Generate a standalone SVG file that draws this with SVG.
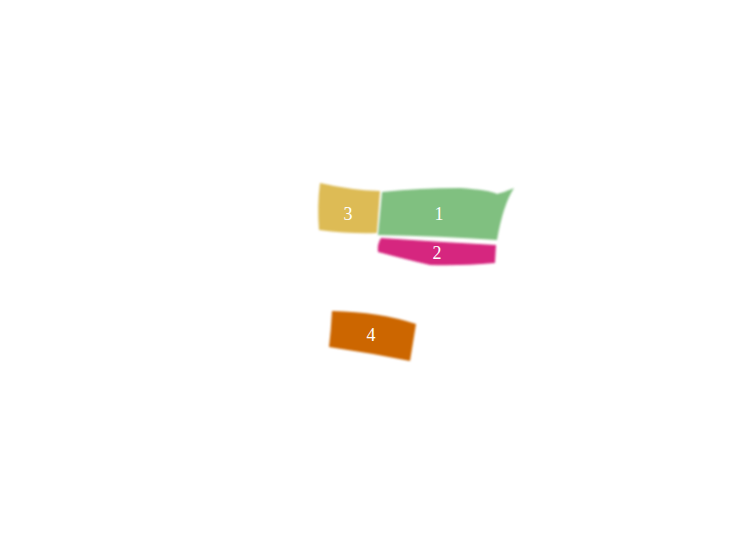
<svg xmlns="http://www.w3.org/2000/svg" width="750" height="560" viewBox="0 0 750 560">
<defs>
<filter id="soft" x="-10%" y="-10%" width="120%" height="120%"><feGaussianBlur stdDeviation="1.2"/></filter>
</defs>
<style>
.shape{filter:url(#soft)}
.lbl{font-family:"Liberation Serif","DejaVu Serif",serif;font-size:18px;fill:#ffffff;text-anchor:middle;dominant-baseline:central}
</style>
<rect width="750" height="560" fill="#ffffff"/>
<g id="node-3">
<path class="shape" fill="#DDBB55" d="M320,183 Q350,190 380,191 L377,233 Q350,234 319,230 Q317,206 320,183 Z"/>
<text class="lbl" x="348" y="214">3</text>
</g>
<g id="node-1">
<path class="shape" fill="#80C080" d="M382,192 Q420,188 460,188 Q490,190 497,194 Q505,192 514,188 Q503,205 497,240 Q440,236 378,235 Q380,214 382,192 Z"/>
<text class="lbl" x="439" y="214">1</text>
</g>
<g id="node-2">
<path class="shape" fill="#D6257F" d="M381,238 Q440,242 496,245 L495,263 Q460,266 430,265 Q400,258 378,252 Q377,244 381,238 Z"/>
<text class="lbl" x="437" y="253">2</text>
</g>
<g id="node-4">
<path class="shape" fill="#CC6600" d="M332,311 Q380,312 416,324 Q413,343 410,361 Q370,353 329,347 Q331,330 332,311 Z"/>
<text class="lbl" x="371" y="335">4</text>
</g>
<g id="connectors"/>
</svg>
